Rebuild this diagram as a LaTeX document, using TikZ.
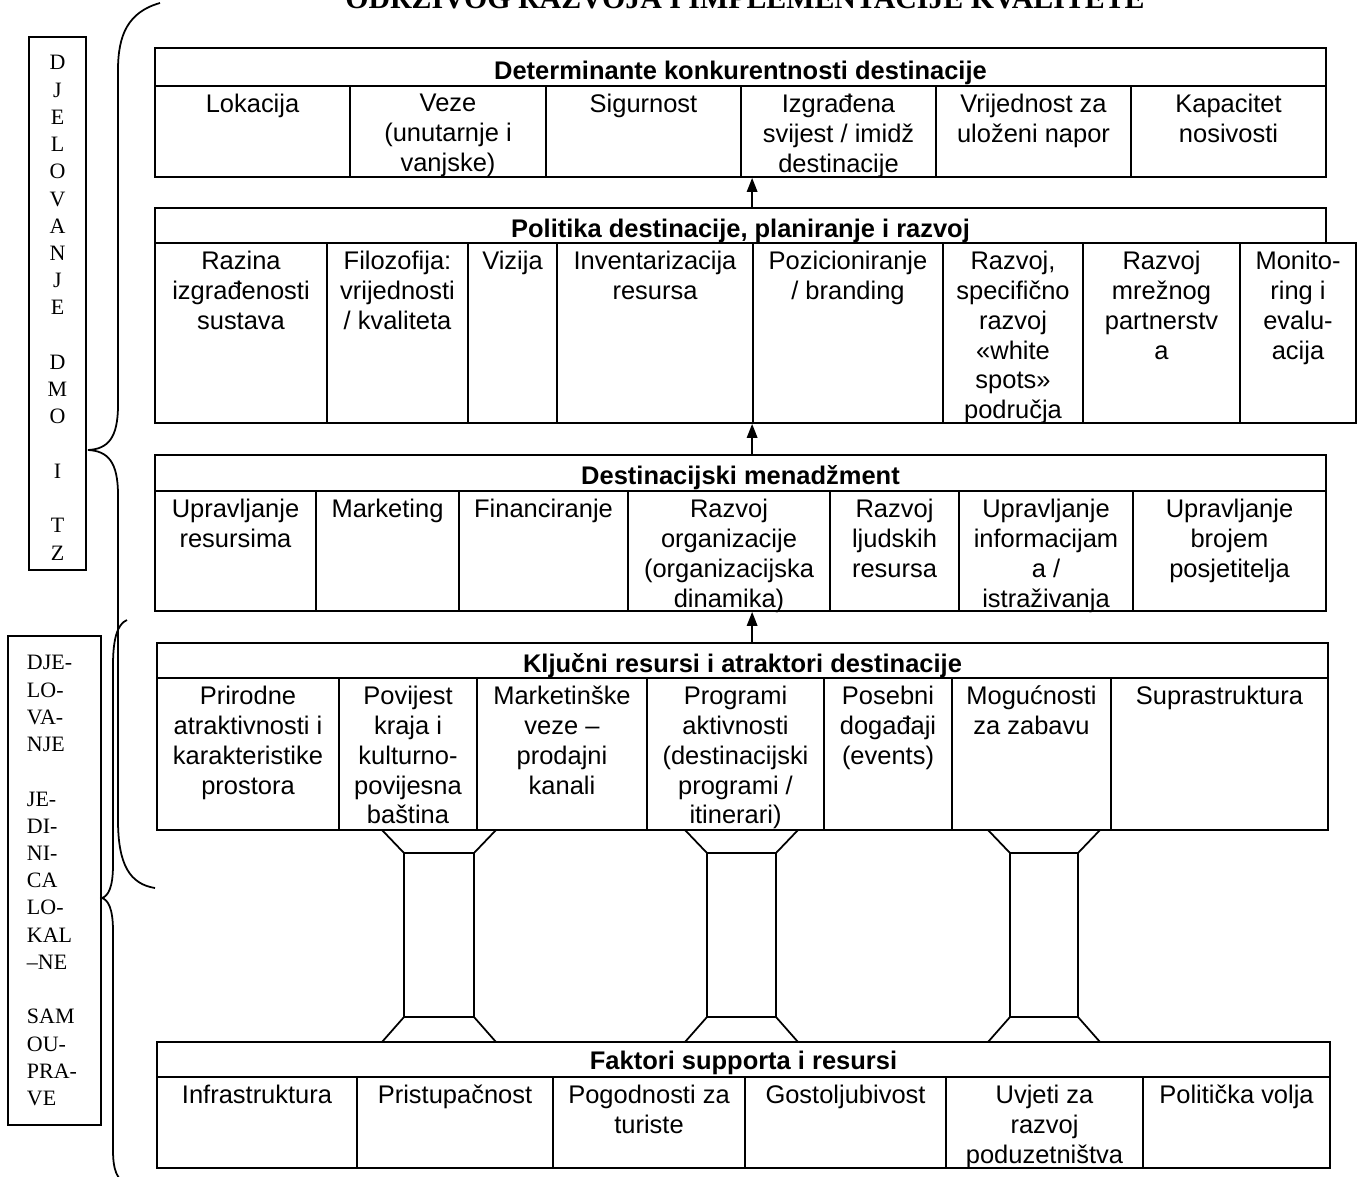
\documentclass[tikz,border=0pt]{standalone}
\usepackage{fontspec}
\setmainfont{Liberation Serif}
\setsansfont{Liberation Sans}
\usetikzlibrary{arrows.meta,fit}

\begin{document}
\begin{tikzpicture}[x=0.02cm, y=-0.02cm, line width=1pt,
    frame/.style={draw, inner sep=0pt},
    headtext/.style={anchor=base, inner sep=0pt, font=\sffamily\bfseries\fontsize{14.5}{17}\selectfont},
    celltext/.style={anchor=north, align=center, inner sep=0pt, font=\sffamily\fontsize{14.5}{17}\selectfont},
    sidetext/.style={inner sep=0pt, font=\fontsize{12.5}{15.5}\selectfont},
    link/.style={-{Triangle[length=8pt,width=6pt]}}]
  \useasboundingbox (0,0) rectangle (1361,1176);

  % title (cut by the page edge)
  \node[anchor=base, inner sep=0pt, font=\bfseries\fontsize{17}{20}\selectfont] (title) at (745,9)
    {ODRŽIVOG RAZVOJA I IMPLEMENTACIJE KVALITETE};

  % determinante
  \node[frame, fit={(155,48) (1326,86)}] (dethead) {};
  \node[headtext] (dettitle) at ([yshift=0.14cm]dethead.south) {Determinante konkurentnosti destinacije};
  \foreach \a/\b/\txt [count=\i] in {155/350/{Lokacija}, 350/546/{Veze\\(unutarnje i\\vanjske)},
      546/741/{Sigurnost}, 741/936/{Izgrađena\\svijest / imidž\\destinacije},
      936/1131/{Vrijednost za\\uloženi napor}, 1131/1326/{Kapacitet\\nosivosti}}{
    \node[frame, fit={(\a,86) (\b,177)}] (det\i) {};
    \node[celltext] (dett\i) at ([yshift=-0.16cm]det\i.north) {\txt};
  }

  % politika
  \node[frame, fit={(155,208) (1326,243)}] (polhead) {};
  \node[headtext] (poltitle) at ([yshift=0.12cm]polhead.south) {Politika destinacije, planiranje i razvoj};
  \foreach \a/\b/\txt [count=\i] in {155/327/{Razina\\izgrađenosti\\sustava},
      327/468/{Filozofija:\\vrijednosti\\/ kvaliteta}, 468/557/{Vizija},
      557/753/{Inventarizacija\\resursa}, 753/943/{Pozicioniranje\\/ branding},
      943/1083/{Razvoj,\\specifično\\razvoj\\«white\\spots»\\područja},
      1083/1240/{Razvoj\\mrežnog\\partnerstv\\a}, 1240/1356/{Monito-\\ring i\\evalu-\\acija}}{
    \node[frame, fit={(\a,243) (\b,423)}] (pol\i) {};
    \node[celltext] (polt\i) at ([yshift=-0.16cm]pol\i.north) {\txt};
  }

  % destinacijski menadzment
  \node[frame, fit={(155,455) (1326,491)}] (dmhead) {};
  \node[headtext] (dmtitle) at ([yshift=0.14cm]dmhead.south) {Destinacijski menadžment};
  \foreach \a/\b/\txt [count=\i] in {155/316/{Upravljanje\\resursima}, 316/459/{Marketing},
      459/628/{Financiranje}, 628/830/{Razvoj\\organizacije\\(organizacijska\\dinamika)},
      830/959/{Razvoj\\ljudskih\\resursa}, 959/1133/{Upravljanje\\informacijam\\a /\\istraživanja},
      1133/1326/{Upravljanje\\brojem\\posjetitelja}}{
    \node[frame, fit={(\a,491) (\b,611)}] (dm\i) {};
    \node[celltext] (dmt\i) at ([yshift=-0.16cm]dm\i.north) {\txt};
  }

  % kljucni resursi
  \node[frame, fit={(157,643) (1328,678)}] (krhead) {};
  \node[headtext] (krtitle) at ([yshift=0.12cm]krhead.south) {Ključni resursi i atraktori destinacije};
  \foreach \a/\b/\txt [count=\i] in {157/339/{Prirodne\\atraktivnosti i\\karakteristike\\prostora},
      339/477/{Povijest\\kraja i\\kulturno-\\povijesna\\baština},
      477/647/{Marketinške\\veze –\\prodajni\\kanali},
      647/824/{Programi\\aktivnosti\\(destinacijski\\programi /\\itinerari)},
      824/952/{Posebni\\događaji\\(events)}, 952/1111/{Mogućnosti\\za zabavu},
      1111/1328/{Suprastruktura}}{
    \node[frame, fit={(\a,678) (\b,830)}] (kr\i) {};
    \node[celltext] (krt\i) at ([yshift=-0.16cm]kr\i.north) {\txt};
  }

  % faktori supporta
  \node[frame, fit={(157,1042) (1330,1077)}] (fshead) {};
  \node[headtext] (fstitle) at ([yshift=0.16cm]fshead.south) {Faktori supporta i resursi};
  \foreach \a/\b/\txt [count=\i] in {157/357/{Infrastruktura}, 357/553/{Pristupačnost},
      553/745/{Pogodnosti za\\turiste}, 745/946/{Gostoljubivost},
      946/1143/{Uvjeti za\\razvoj\\poduzetništva}, 1143/1330/{Politička volja}}{
    \node[frame, fit={(\a,1077) (\b,1168)}] (fs\i) {};
    \node[celltext] (fst\i) at ([yshift=-0.16cm]fs\i.north) {\txt};
  }

  % arrows between layers
  \draw[link] (polhead.north -| pol5.west) -- (det4.south -| pol5.west);
  \draw[link] (dmhead.north -| pol5.west) -- (pol5.south west);
  \draw[link] (krhead.north -| pol5.west) -- (dm4.south -| pol5.west);

  % pillars
  \foreach \l/\r in {404/474, 707/776, 1010/1078}{
    \draw (\l-22,830) -- (\l,853) -- (\l,1017) -- (\l-22,1042);
    \draw (\r+22,830) -- (\r,853) -- (\r,1017) -- (\r+22,1042);
    \draw (\l,853) -- (\r,853) (\l,1017) -- (\r,1017);
  }

  % side boxes
  \node[frame, fit={(29,37) (86,570)}] (dmo) {};
  \node[sidetext, anchor=north, align=center] (dmot) at ([yshift=-0.37cm]dmo.north)
    {D\\J\\E\\L\\O\\V\\A\\N\\J\\E\\[15.5pt]D\\M\\O\\[15.5pt]I\\[15.5pt]T\\Z};
  \node[frame, fit={(8,636) (101,1125)}] (jls) {};
  \node[sidetext, anchor=north west, align=left] (jlst) at ([xshift=0.38cm,yshift=-0.39cm]jls.north west)
    {DJE-\\LO-\\VA-\\NJE\\[15.5pt]JE-\\DI-\\NI-\\CA\\LO-\\KAL\\–NE\\[15.5pt]SAM\\OU-\\PRA-\\VE};

  % braces
  \draw (160,3) .. controls (128,12) and (118,35) .. (118,70) -- (118,405)
    .. controls (118,438) and (108,449) .. (88,450)
    .. controls (108,451) and (118,462) .. (118,495) -- (118,820)
    .. controls (118,865) and (130,884) .. (155,888);
  \draw (127,620) .. controls (117,624) and (113,640) .. (113,665) -- (113,865)
    .. controls (113,888) and (108,896) .. (102,898)
    .. controls (108,900) and (113,908) .. (113,931) -- (113,1150)
    .. controls (113,1170) and (117,1180) .. (127,1184);
\end{tikzpicture}
\end{document}
